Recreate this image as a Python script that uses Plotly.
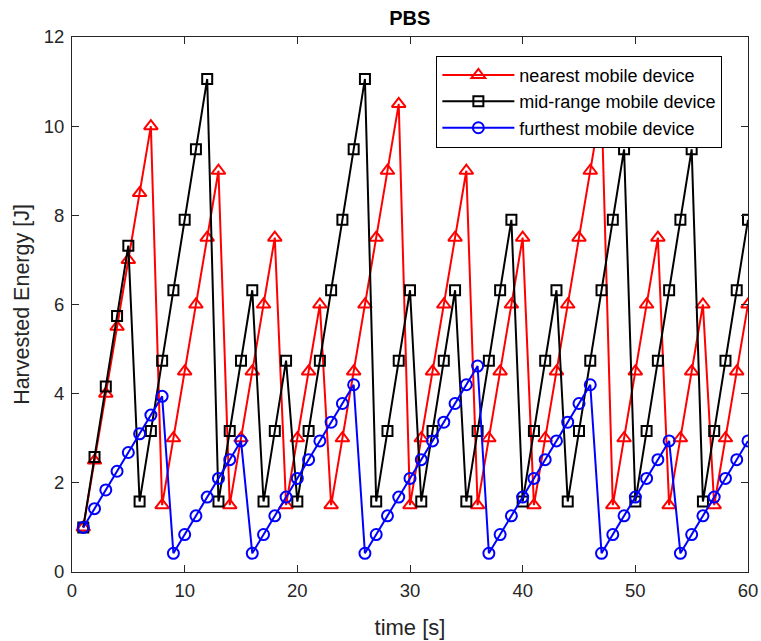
import plotly.graph_objects as go

time_s = list(range(1, 61))

nearest = [1.0, 2.5, 4.0, 5.5, 7.0, 8.5, 10.0,
           1.5, 3.0, 4.5, 6.0, 7.5, 9.0,
           1.5, 3.0, 4.5, 6.0, 7.5,
           1.5, 3.0, 4.5, 6.0,
           1.5, 3.0, 4.5, 6.0, 7.5, 9.0, 10.5,
           1.5, 3.0, 4.5, 6.0, 7.5, 9.0,
           1.5, 3.0, 4.5, 6.0, 7.5,
           1.5, 3.0, 4.5, 6.0, 7.5, 9.0, 10.5,
           1.5, 3.0, 4.5, 6.0, 7.5,
           1.5, 3.0, 4.5, 6.0,
           1.5, 3.0, 4.5, 6.0]

mid_range = [1.0, 2.58, 4.16, 5.74, 7.32,
             1.58, 3.16, 4.74, 6.32, 7.90, 9.48, 11.06,
             1.58, 3.16, 4.74, 6.32,
             1.58, 3.16, 4.74,
             1.58, 3.16, 4.74, 6.32, 7.90, 9.48, 11.06,
             1.58, 3.16, 4.74, 6.32,
             1.58, 3.16, 4.74, 6.32,
             1.58, 3.16, 4.74, 6.32, 7.90,
             1.58, 3.16, 4.74, 6.32,
             1.58, 3.16, 4.74, 6.32, 7.90, 9.48,
             1.58, 3.16, 4.74, 6.32, 7.90, 9.48,
             1.58, 3.16, 4.74, 6.32, 7.90]

furthest = [1.0, 1.42, 1.84, 2.26, 2.68, 3.10, 3.52, 3.94,
            0.42, 0.84, 1.26, 1.68, 2.10, 2.52, 2.94,
            0.42, 0.84, 1.26, 1.68, 2.10, 2.52, 2.94, 3.36, 3.78, 4.20,
            0.42, 0.84, 1.26, 1.68, 2.10, 2.52, 2.94, 3.36, 3.78, 4.20, 4.62,
            0.42, 0.84, 1.26, 1.68, 2.10, 2.52, 2.94, 3.36, 3.78, 4.20,
            0.42, 0.84, 1.26, 1.68, 2.10, 2.52, 2.94,
            0.42, 0.84, 1.26, 1.68, 2.10, 2.52, 2.94]

series_names = ["nearest mobile device", "mid-range mobile device", "furthest mobile device"]
x_ticks = [0, 10, 20, 30, 40, 50, 60]
y_ticks = [0, 2, 4, 6, 8, 10, 12]

FONT = "Liberation Sans, Arial, Helvetica, sans-serif"
AX = "#262626"

fig = go.Figure()
specs = [
    (nearest, series_names[0], "#ff0000", "triangle-up-open", 12),
    (mid_range, series_names[1], "#000000", "square-open", 10),
    (furthest, series_names[2], "#0000ff", "circle-open", 11),
]
for ys, name, col, sym, sz in specs:
    fig.add_trace(go.Scatter(
        x=time_s, y=ys, name=name, mode="lines+markers",
        line=dict(color=col, width=2),
        marker=dict(symbol=sym, size=sz, color=col, line=dict(color=col, width=2)),
    ))

axis_common = dict(
    showgrid=False, zeroline=False, showline=True, linecolor=AX, linewidth=1,
    mirror="ticks", ticks="inside", ticklen=7, tickcolor=AX, tickwidth=1,
    tickfont=dict(family=FONT, size=18.5, color=AX), automargin=False,
)

fig.update_layout(
    width=761, height=641,
    paper_bgcolor="white", plot_bgcolor="white",
    margin=dict(l=72, r=13, t=37, b=69),
    title=dict(text="<b>PBS</b>", x=0.5385, xanchor="center", y=0.972, yanchor="middle",
               font=dict(family=FONT, size=20, color="#000000")),
    xaxis=dict(range=[0, 60], tickvals=x_ticks, ticklabelstandoff=2,
               title=dict(text="time [s]", font=dict(family=FONT, size=22, color=AX), standoff=19),
               **axis_common),
    yaxis=dict(range=[0, 12], tickvals=y_ticks, ticklabelstandoff=3,
               title=dict(text="Harvested Energy [J]", font=dict(family=FONT, size=21.5, color=AX), standoff=8),
               **axis_common),
    legend=dict(x=0.539, y=0.965, xanchor="left", yanchor="top",
                bgcolor="white", bordercolor="#000000", borderwidth=1,
                font=dict(family=FONT, size=18, color="#000000"),
                itemwidth=72),
    showlegend=True,
)

fig.write_html("out.html", config={"displayModeBar": False},
               post_script="document.body.style.margin='0';")
